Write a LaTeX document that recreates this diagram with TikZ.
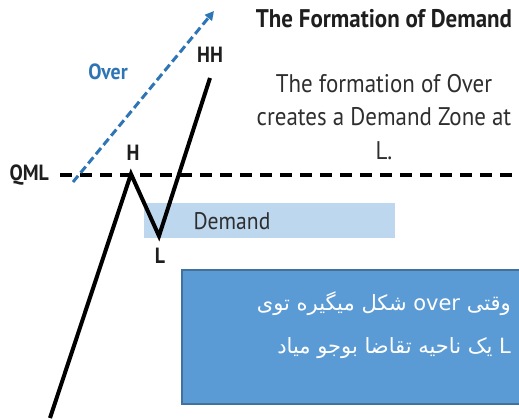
\documentclass[tikz,border=0pt]{standalone}
\usepackage{fontspec}
\setmainfont{PT Sans}[FakeStretch=0.9]
\newfontfamily\farsifont[Script=Arabic]{DejaVu Sans}
\TeXXeTstate=1
\usetikzlibrary{arrows.meta}
\definecolor{overblue}{HTML}{2E75B6}
\definecolor{zoneblue}{HTML}{BDD7EE}
\definecolor{notefill}{HTML}{5B9BD5}
\definecolor{noteedge}{HTML}{41719C}
\definecolor{darktext}{HTML}{1E1E1E}
\definecolor{graytext}{HTML}{2E2E2E}
\begin{document}
\begin{tikzpicture}[x=1pt,y=-1pt,
    pricelbl/.style={font=\bfseries\fontsize{22}{22}\selectfont, text=darktext, inner sep=0pt},
    bodytxt/.style={font=\fontsize{25.5}{33.5}\selectfont, text=graytext, align=center, inner sep=0pt},
    notetxt/.style={font=\farsifont\fontsize{21}{26}\selectfont, text=white, anchor=east, inner sep=0pt}]

    \useasboundingbox (0,0) rectangle (519,420);

    \fill[zoneblue] (144,203) rectangle (395,238);
    \node[font=\fontsize{24}{24}\selectfont, text=graytext, inner sep=0pt] (demand) at (232,221) {Demand};

    \coordinate (start) at (50,418);
    \coordinate (h) at (131,174);
    \coordinate (l) at (159,236);
    \coordinate (hh) at (210,78);
    \coordinate (qmlend) at (519,175);
    \coordinate (overstart) at (73,182);
    \coordinate (overend) at (214,11);

    \node[pricelbl, anchor=east] (qml) at (49,175) {QML};
    \coordinate (qmlstart) at (60,175);
    \draw[line width=4.5pt, dash pattern=on 12pt off 8pt] (qmlstart) -- (qmlend);

    \draw[overblue, line width=3pt, dash pattern=on 8pt off 4pt, -{Triangle[length=9pt,width=9pt]}] (overstart) -- (overend);
    \node[font=\bfseries\fontsize{22}{22}\selectfont, text=overblue, inner sep=0pt] (over) at (108,72) {Over};

    \draw[line width=4pt, miter limit=10] (start) -- (h) -- (l) -- (hh);

    \node[pricelbl] (hlbl) at (133,153) {H};
    \node[pricelbl] (hhlbl) at (210,55) {HH};
    \node[pricelbl] (llbl) at (160,256) {L};

    \node[font=\bfseries\fontsize{25.5}{25.5}\selectfont, text=darktext, inner sep=0pt] (title) at (384,19) {The Formation of Demand};
    \node[bodytxt] (body) at (384,117) {The formation of Over\\creates a Demand Zone at\\L.};

    \filldraw[fill=notefill, draw=noteedge, line width=1.5pt] (182,270) rectangle (521,404);
    \node[notetxt] (note1) at (511,304) {\beginR وقتی \beginL over\endL{} شکل میگیره توی\endR};
    \node[notetxt] (note2) at (511,348) {\beginR L یک ناحیه تقاضا بوجو میاد\endR};

\end{tikzpicture}
\end{document}
